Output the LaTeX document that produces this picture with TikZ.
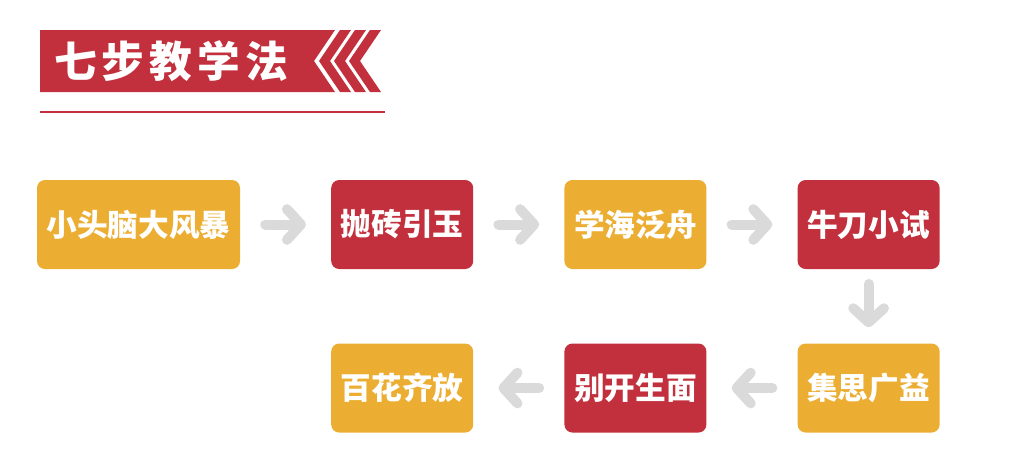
\documentclass[tikz,border=0pt]{standalone}
\usepackage{fontspec}
\setmainfont{Noto Sans CJK SC}
\usetikzlibrary{arrows.meta, positioning}

\definecolor{stepred}{HTML}{C1303C}
\definecolor{steporange}{HTML}{EBAE32}
\definecolor{arrowgray}{HTML}{DADADA}

\begin{document}
\begin{tikzpicture}[x=0.75pt, y=-0.75pt, node distance=68pt, auto]
    \tikzstyle{stepbox} = [rectangle, rounded corners=6pt, minimum width=106.5pt, minimum height=66.75pt, text centered, inner sep=0pt, text=white, font=\bfseries\fontsize{23}{25}\selectfont]
    \tikzstyle{redbox} = [stepbox, fill=stepred]
    \tikzstyle{orangebox} = [stepbox, fill=steporange]
    \tikzstyle{garrow} = [draw=arrowgray, line width=7.5pt, line cap=round, -{Straight Barb[length=10.5pt, width=23pt, line cap=round, line join=round]}]

    \useasboundingbox (0,0) rectangle (1016,472);

    % title banner
    \fill[stepred] (40,30) -- (335,30) -- (314,61) -- (335,92) -- (40,92) -- cycle;
    \foreach \k in {0,1,2}
        \fill[stepred] (340+15*\k,30) -- (351+15*\k,30) -- (330+15*\k,61) -- (351+15*\k,92) -- (340+15*\k,92) -- (319+15*\k,61) -- cycle;
    \node (title) [text=white, font=\bfseries\fontsize{32}{35}\selectfont\addfontfeatures{LetterSpace=12}] at (171,61) {七步教学法};
    \draw[stepred, line width=1.1pt] (40,112) -- (385,112);

    % steps
    \node (brain) [orangebox, minimum width=152.25pt] at (138.5,224.5) {小头脑大风暴};
    \node (brick) [redbox, right=of brain] {抛砖引玉};
    \node (sea) [orangebox, right=of brick] {学海泛舟};
    \node (knife) [redbox, right=of sea] {牛刀小试};
    \node (ideas) [orangebox, below=55.5pt of knife] {集思广益};
    \node (fresh) [redbox, left=of ideas] {别开生面};
    \node (bloom) [orangebox, left=of fresh] {百花齐放};

    \draw [garrow, shorten <=18.75pt, shorten >=18.75pt] (brain) -- (brick);
    \draw [garrow, shorten <=18.75pt, shorten >=18.75pt] (brick) -- (sea);
    \draw [garrow, shorten <=18.75pt, shorten >=18.75pt] (sea) -- (knife);
    \draw [garrow, shorten <=11pt, shorten >=12pt] (knife) -- (ideas);
    \draw [garrow, shorten <=18.75pt, shorten >=18.75pt] (ideas) -- (fresh);
    \draw [garrow, shorten <=18.75pt, shorten >=18.75pt] (fresh) -- (bloom);
\end{tikzpicture}
\end{document}
